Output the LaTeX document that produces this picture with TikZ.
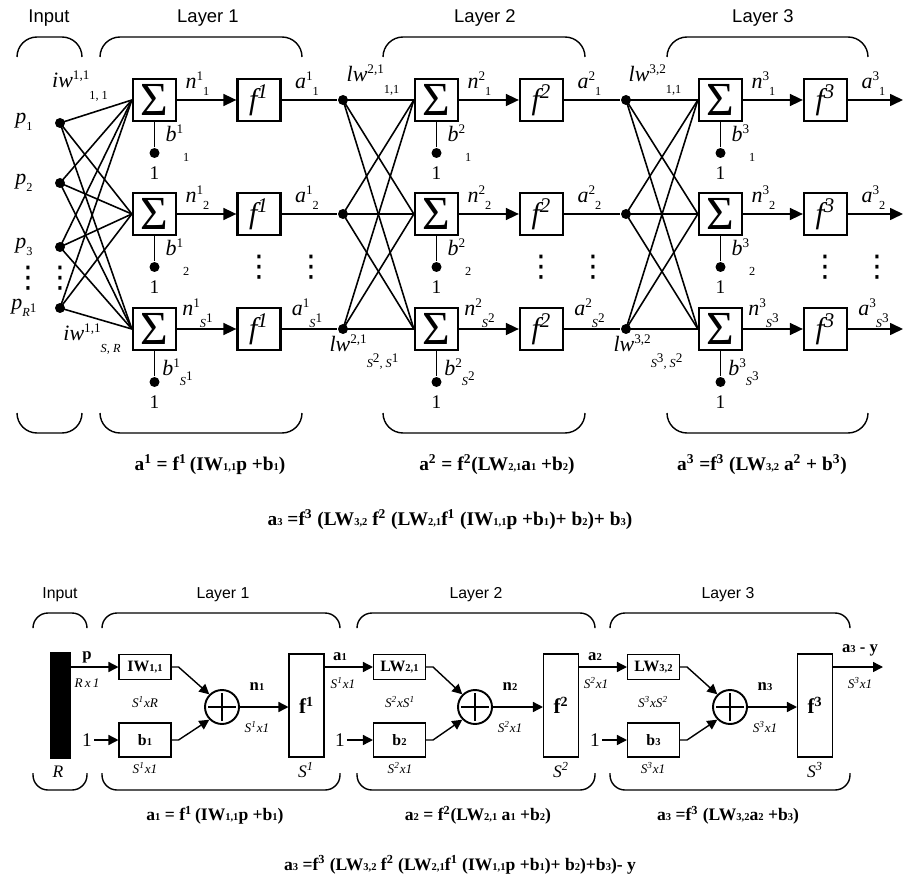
\documentclass[tikz,border=0pt]{standalone}
\usepackage{fontspec}
\setmainfont{Liberation Serif}
\setsansfont{Liberation Sans}
\newfontfamily\dotsfont{DejaVu Sans}
\usetikzlibrary{arrows.meta, calc}

\newcommand{\lo}[1]{{\fontsize{6}{6}\selectfont #1}}
\newcommand{\hi}[1]{\raisebox{0.8ex}{\fontsize{7.5}{7.5}\selectfont #1}}
\newcommand{\wlab}[4][1.2ex]{\textit{#2}\hi{#3}\raisebox{-#1}{\scriptsize #4}}

\begin{document}
\begin{tikzpicture}[
    x=0.02cm, y=-0.02cm, line width=0.9pt,
    sumbox/.style={draw, line width=1.3pt, minimum width=0.86cm, minimum height=0.84cm,
                   inner sep=0pt, font=\fontsize{27}{27}\selectfont},
    funbox/.style={sumbox, font=\fontsize{17}{17}\selectfont\itshape},
    jdot/.style={circle, fill, inner sep=0pt, minimum size=0.2cm},
    tri/.style={-{Triangle[length=0.26cm, width=0.24cm]}},
    grp/.style={rounded corners=0.4cm, line width=0.8pt},
    ttl/.style={font=\sffamily\fontsize{10.5}{12}\selectfont, inner sep=1pt},
    lbl/.style={font=\fontsize{12.5}{14}\selectfont, inner sep=1pt},
    vdt/.style={font=\dotsfont\fontsize{17}{17}\selectfont, inner sep=0pt},
    one/.style={font=\fontsize{11}{12}\selectfont, inner sep=1pt},
    eq/.style={font=\bfseries\fontsize{11}{13}\selectfont, inner sep=1pt},
    mbox/.style={draw, line width=0.6pt, minimum width=1.04cm, inner sep=0pt,
                 font=\bfseries\fontsize{9}{10}\selectfont},
    sumc/.style={draw, circle, line width=1.1pt, minimum size=0.68cm, inner sep=0pt,
                 path picture={\draw[line width=0.6pt]
                   ([xshift=-0.28cm]path picture bounding box.center) -- ([xshift=0.28cm]path picture bounding box.center)
                   ([yshift=-0.28cm]path picture bounding box.center) -- ([yshift=0.28cm]path picture bounding box.center);}},
    fbig/.style={draw, line width=0.6pt, minimum width=0.7cm, minimum height=2.06cm,
                 inner sep=0pt, font=\bfseries\fontsize{12}{12}\selectfont},
    tipb/.style={-{Triangle[length=0.2cm, width=0.2cm]}, line width=0.8pt},
    dimlab/.style={font=\itshape\fontsize{7.5}{8}\selectfont, inner sep=1pt},
    dimS/.style={font=\itshape\fontsize{10}{11}\selectfont, inner sep=1pt},
    blbl/.style={font=\bfseries\fontsize{9.5}{10}\selectfont, inner sep=1pt},
    ttlb/.style={font=\sffamily\fontsize{9}{10}\selectfont, inner sep=1pt},
    grpb/.style={rounded corners=0.3cm, line width=0.8pt},
    eqb/.style={font=\bfseries\fontsize{10}{12}\selectfont, inner sep=1pt},
]
\useasboundingbox (0,0) rectangle (905,878);

% ===================== Upper network: titles and braces =====================
\node[ttl] (tIn) at (49,18) {Input};
\node[ttl] (tL1) at (208,18) {Layer 1};
\node[ttl] (tL2) at (485,18) {Layer 2};
\node[ttl] (tL3) at (763,18) {Layer 3};

\draw[grp] (17,57) -- (17,37) -- (82,37) -- (82,57);
\draw[grp] (100,57) -- (100,37) -- (302,37) -- (302,57);
\draw[grp] (383,57) -- (383,37) -- (585,37) -- (585,57);
\draw[grp] (667,57) -- (667,37) -- (868,37) -- (868,57);
\draw[grp] (17,413) -- (17,433) -- (82,433) -- (82,413);
\draw[grp] (100,413) -- (100,433) -- (302,433) -- (302,413);
\draw[grp] (383,413) -- (383,433) -- (585,433) -- (585,413);
\draw[grp] (667,413) -- (667,433) -- (868,433) -- (868,413);

% ===================== Inputs =====================
\node[jdot] (in1) at (60,123) {};
\node[jdot] (in2) at (60,183) {};
\node[jdot] (in3) at (60,247) {};
\node[jdot] (in4) at (60,308) {};
\node[lbl] (pl1) at (24,122) {\textit{p}\raisebox{-0.7ex}{\scriptsize 1}};
\node[lbl] (pl2) at (24,183) {\textit{p}\raisebox{-0.7ex}{\scriptsize 2}};
\node[lbl] (pl3) at (24,247) {\textit{p}\raisebox{-0.7ex}{\scriptsize 3}};
\node[lbl] (pl4) at (24,308) {\textit{p}\raisebox{-0.7ex}{\scriptsize\textit{R}\hi{1}}};
\node[vdt] (pv1) at (28,278) {⋮};
\node[vdt] (pv2) at (60,278) {⋮};

% ===================== Layer dots =====================
\foreach \ly/\x in {2/343, 3/626}
  \foreach \rw/\y in {1/100, 2/214, 3/329}
    \node[jdot] (src\ly\rw) at (\x,\y) {};
\foreach \rw/\y in {1/100, 2/214, 3/329}
  \coordinate (out\rw) at (903,\y);

% ===================== Neurons =====================
\foreach \ly/\sx/\fx in {1/154.5/259, 2/436.5/541.5, 3/720.5/825.5}{
  \foreach \rw/\y/\sb/\nd/\bd in {1/100/1/0.7ex/2ex, 2/214/2/0.7ex/2ex,
                                  3/329/{\textit{S}\hi{\ly}}/1.2ex/1ex}{
    \node[sumbox] (sig\ly\rw) at (\sx,\y) {Σ};
    \node[funbox] (fun\ly\rw) at (\fx,\y) {f\textsuperscript{\ly}};
    \node[jdot] (bias\ly\rw) at (\sx,\y+53) {};
    \node[one] (one\ly\rw) at (\sx,\y+73) {1};
    \draw[tri] (sig\ly\rw) -- (fun\ly\rw);
    \draw (sig\ly\rw) -- (bias\ly\rw);
    \node[lbl] (nl\ly\rw) at (\sx+43,\y-16)
      {\textit{n}\hi{\ly}\raisebox{-\nd}{\scriptsize \sb}};
    \node[lbl] (al\ly\rw) at (\fx+48,\y-16)
      {\textit{a}\hi{\ly}\raisebox{-\nd}{\scriptsize \sb}};
    \node[lbl] (bl\ly\rw) at (\sx+23,\y+43)
      {\textit{b}\hi{\ly}\raisebox{-\bd}{\scriptsize \sb}};
  }
  \node[vdt] (fv\ly) at (\fx,267) {⋮};
  \node[vdt] (av\ly) at (\fx+52,267) {⋮};
}

% ===================== Connections =====================
\foreach \i in {1,...,4}
  \foreach \rw in {1,2,3}
    \draw (in\i.center) -- (sig1\rw.west);
\foreach \i in {1,2,3}
  \foreach \rw in {1,2,3}{
    \draw (src2\i.center) -- (sig2\rw.west);
    \draw (src3\i.center) -- (sig3\rw.west);
  }
\foreach \rw in {1,2,3}{
  \draw (fun1\rw) -- (src2\rw);
  \draw (fun2\rw) -- (src3\rw);
  \draw[tri] (fun3\rw) -- (out\rw);
}

% ===================== Weight labels =====================
\node[lbl] (iwT) at (80,86) {\wlab{iw}{1,1}{1, 1}};
\node[lbl] (iwB) at (92,339) {\wlab{iw}{1,1}{\textit{S, R}}};
\node[lbl] (lwT2) at (373,80) {\wlab{lw}{2,1}{1,1}};
\node[lbl] (lwB2) at (364,352)
  {\wlab[1.5ex]{lw}{2,1}{\textit{S}\hi{2}\textit{, S}\hi{1}}};
\node[lbl] (lwT3) at (655,80) {\wlab{lw}{3,2}{1,1}};
\node[lbl] (lwB3) at (648,352)
  {\wlab[1.5ex]{lw}{3,2}{\textit{S}\hi{3}\textit{, S}\hi{2}}};

% ===================== Upper equations =====================
\node[eq] (eA1) at (210,465) {a\textsuperscript{1} = f\textsuperscript{1}\,(IW\lo{1,1}p +b\lo{1})};
\node[eq] (eA2) at (497,465) {a\textsuperscript{2} = f\textsuperscript{2}(LW\lo{2,1}a\lo{1} +b\lo{2})};
\node[eq] (eA3) at (762,465) {a\textsuperscript{3} =f\textsuperscript{3} (LW\lo{3,2} a\textsuperscript{2} + b\textsuperscript{3})};
\node[eq] (eAall) at (450,520)
  {a\lo{3} =f\textsuperscript{3} (LW\lo{3,2} f\textsuperscript{2} (LW\lo{2,1}f\textsuperscript{1} (IW\lo{1,1}p +b\lo{1})+ b\lo{2})+ b\lo{3})};

% ===================== Lower network: titles and braces =====================
\node[ttlb] (bIn) at (60,595) {Input};
\node[ttlb] (bL1) at (223,595) {Layer 1};
\node[ttlb] (bL2) at (476,595) {Layer 2};
\node[ttlb] (bL3) at (728,595) {Layer 3};

\draw[grpb] (33,628) -- (33,613) -- (87,613) -- (87,628);
\draw[grpb] (102,628) -- (102,613) -- (340,613) -- (340,628);
\draw[grpb] (357,628) -- (357,613) -- (595,613) -- (595,628);
\draw[grpb] (610,628) -- (610,613) -- (850,613) -- (850,628);
\draw[grpb] (33,773) -- (33,790) -- (87,790) -- (87,773);
\draw[grpb] (102,773) -- (102,790) -- (340,790) -- (340,773);
\draw[grpb] (357,773) -- (357,790) -- (595,790) -- (595,773);
\draw[grpb] (610,773) -- (610,790) -- (850,790) -- (850,773);

% ===================== Lower network: blocks =====================
\node[draw, fill, minimum width=0.38cm, minimum height=2.1cm, inner sep=0pt] (bar) at (60.5,705.5) {};
\node[mbox, minimum height=0.5cm] (wIW) at (145,667) {IW\lo{1,1}};
\node[mbox, minimum height=0.68cm] (wB1) at (145,740) {b\lo{1}};
\node[sumc] (add1) at (222,707) {};
\node[fbig] (fB1) at (306.5,705.5) {f\textsuperscript{1}};
\node[mbox, minimum height=0.5cm] (wLW2) at (399.5,667) {LW\lo{2,1}};
\node[mbox, minimum height=0.68cm] (wB2) at (399.5,740) {b\lo{2}};
\node[sumc] (add2) at (475,707) {};
\node[fbig] (fB2) at (561,705.5) {f\textsuperscript{2}};
\node[mbox, minimum height=0.5cm] (wLW3) at (653.5,667) {LW\lo{3,2}};
\node[mbox, minimum height=0.68cm] (wB3) at (653.5,740) {b\lo{3}};
\node[sumc] (add3) at (730,707) {};
\node[fbig] (fB3) at (815,705.5) {f\textsuperscript{3}};
\coordinate (outB) at (883,667);
\node[one] (u1) at (87,740) {1};
\node[one] (u2) at (340,740) {1};
\node[one] (u3) at (595,740) {1};

% ===================== Lower network: connectors =====================
\draw[tipb] (bar.east |- wIW) -- (wIW);
\draw[tipb] (u1) -- (wB1);
\draw[tipb] (wIW.east) -- ++(7,0) -- (add1.135);
\draw[tipb] (wB1.east) -- ++(7,0) -- (add1.225);
\draw[tipb] (add1) -- (fB1.west |- add1);
\draw[tipb] (fB1.east |- wLW2) -- (wLW2);
\draw[tipb] (u2) -- (wB2);
\draw[tipb] (wLW2.east) -- ++(7,0) -- (add2.135);
\draw[tipb] (wB2.east) -- ++(7,0) -- (add2.225);
\draw[tipb] (add2) -- (fB2.west |- add2);
\draw[tipb] (fB2.east |- wLW3) -- (wLW3);
\draw[tipb] (u3) -- (wB3);
\draw[tipb] (wLW3.east) -- ++(7,0) -- (add3.135);
\draw[tipb] (wB3.east) -- ++(7,0) -- (add3.225);
\draw[tipb] (add3) -- (fB3.west |- add3);
\draw[tipb] (fB3.east |- outB) -- (outB);

% ===================== Lower network: labels =====================
\node[blbl] (lp) at (87,657) {p};
\node[dimlab] (dp) at (87,683) {R\,x\,1};
\node[dimlab] (dIW) at (145,702) {S\textsuperscript{1}xR};
\node[dimlab] (dB1) at (145,768) {S\textsuperscript{1}x1};
\node[blbl] (ln1) at (257,687) {n\lo{1}};
\node[dimlab] (dn1) at (257,727) {S\textsuperscript{1}x1};
\node[blbl] (la1) at (340,657) {a\lo{1}};
\node[dimlab] (da1) at (343,683) {S\textsuperscript{1}x1};
\node[dimS] (dR) at (58,772) {R};
\node[dimS] (dS1) at (306,770) {S\textsuperscript{1}};

\node[dimlab] (dLW2) at (400,702) {S\textsuperscript{2}xS\textsuperscript{1}};
\node[dimlab] (dB2) at (400,768) {S\textsuperscript{2}x1};
\node[blbl] (ln2) at (510,687) {n\lo{2}};
\node[dimlab] (dn2) at (510,727) {S\textsuperscript{2}x1};
\node[blbl] (la2) at (595,657) {a\lo{2}};
\node[dimlab] (da2) at (596,683) {S\textsuperscript{2}x1};
\node[dimS] (dS2) at (561,770) {S\textsuperscript{2}};

\node[dimlab] (dLW3) at (653,702) {S\textsuperscript{3}xS\textsuperscript{2}};
\node[dimlab] (dB3) at (653,768) {S\textsuperscript{3}x1};
\node[blbl] (ln3) at (765,687) {n\lo{3}};
\node[dimlab] (dn3) at (765,727) {S\textsuperscript{3}x1};
\node[blbl] (la3) at (860,650) {a\lo{3} - y};
\node[dimlab] (da3) at (860,683) {S\textsuperscript{3}x1};
\node[dimS] (dS3) at (815,770) {S\textsuperscript{3}};

% ===================== Lower equations =====================
\node[eqb] (eB1) at (215,815) {a\lo{1} = f\textsuperscript{1}\,(IW\lo{1,1}p +b\lo{1})};
\node[eqb] (eB2) at (478,815) {a\lo{2} = f\textsuperscript{2}(LW\lo{2,1} a\lo{1} +b\lo{2})};
\node[eqb] (eB3) at (728,815) {a\lo{3} =f\textsuperscript{3} (LW\lo{3,2}a\lo{2} +b\lo{3})};
\node[eqb] (eBall) at (460,865)
  {a\lo{3} =f\textsuperscript{3} (LW\lo{3,2} f\textsuperscript{2} (LW\lo{2,1}f\textsuperscript{1} (IW\lo{1,1}p +b\lo{1})+ b\lo{2})+b\lo{3})- y};

\end{tikzpicture}
\end{document}
